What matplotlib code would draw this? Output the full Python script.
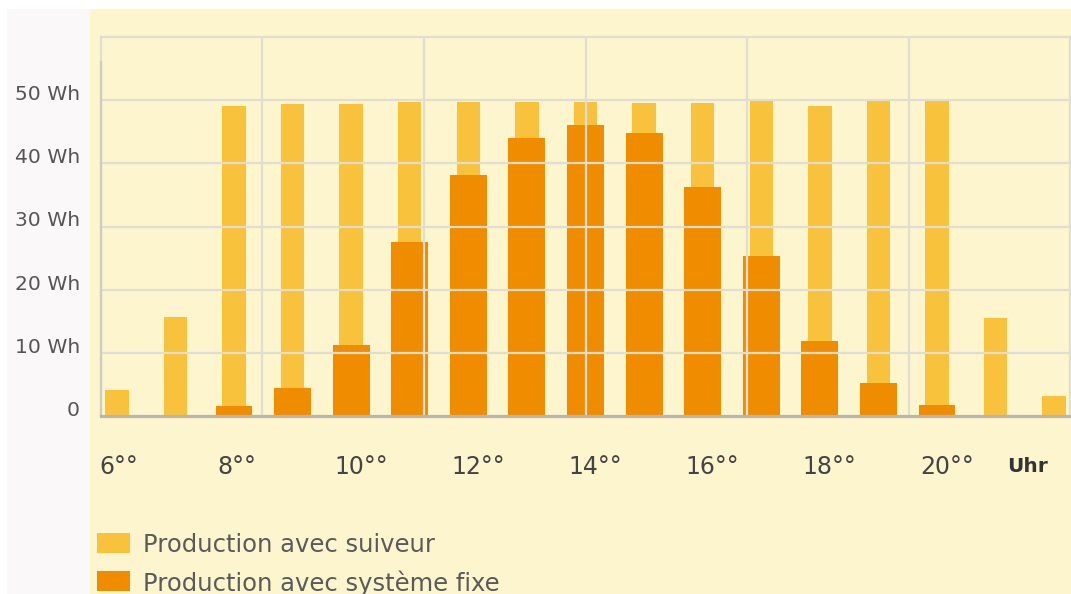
import numpy as np
import matplotlib
matplotlib.use("Agg")
import matplotlib.pyplot as plt
from matplotlib.patches import Rectangle
import matplotlib.transforms as mtransforms

# Hourly energy production (Wh)
hours = [6, 7, 8, 9, 10, 11, 12, 13, 14, 15, 16, 17, 18, 19, 20, 21, 22]
suiveur = [4.1, 15.6, 49.1, 49.4, 49.4, 49.7, 49.7, 49.7, 49.7, 49.5, 49.5,
           49.9, 49.1, 49.8, 49.8, 15.5, 3.2]
fixe = [0, 0, 1.6, 4.5, 11.2, 27.5, 38.2, 44.0, 46.1, 44.8, 36.2,
        25.4, 11.8, 5.2, 1.7, 0, 0]

y_ticks = [0, 10, 20, 30, 40, 50]
y_labels = ["0", "10 Wh", "20 Wh", "30 Wh", "40 Wh", "50 Wh"]
x_ticks = [6, 8, 10, 12, 14, 16, 18, 20]
x_labels = ["6°°", "8°°", "10°°", "12°°", "14°°", "16°°", "18°°", "20°°"]
unit_label = "Uhr"
series_names = ["Production avec suiveur", "Production avec système fixe"]

C_YELLOW = "#f9c23c"
C_ORANGE = "#f08c00"
C_BG = "#fdf5cd"
C_PANEL = "#faf8f8"
C_GRID = "#e0ddd2"
C_TEXT = "#555555"

W, H = 1071, 594
fig = plt.figure(figsize=(W / 100, H / 100), dpi=100, facecolor="white")

# background panels
fig.add_artist(Rectangle((7 / W, 0), (90 - 7) / W, 1 - 9 / H,
                         transform=fig.transFigure, color=C_PANEL, lw=0, zorder=0))
fig.add_artist(Rectangle((90 / W, 0), 1 - 90 / W, 1 - 9 / H,
                         transform=fig.transFigure, color=C_BG, lw=0, zorder=0))

ax = fig.add_axes([101 / W, 1 - 416 / H, (1070 - 101) / W, (416 - 37) / H])
ax.set_facecolor("none")
xmin, xmax = 5.73, 22.27
ax.set_xlim(xmin, xmax)
ax.set_ylim(0, 60)

ax.bar(hours, suiveur, width=0.40, color=C_YELLOW, zorder=2, label=series_names[0])
ax.bar(hours, fixe, width=0.63, color=C_ORANGE, zorder=3, label=series_names[1])

# grid drawn over the bars
for v in y_ticks[1:]:
    ax.axhline(v, color=C_GRID, lw=1.6, zorder=4)
for xv in np.linspace(xmin, xmax, 7)[1:-1]:
    ax.axvline(xv, color=C_GRID, lw=1.6, zorder=4)

for side in ["top", "left", "right"]:
    ax.spines[side].set_color(C_GRID)
    ax.spines[side].set_linewidth(1.6)
ax.spines["bottom"].set_color("#b8b6ab")
ax.spines["bottom"].set_linewidth(2.3)
ax.spines["bottom"].set_zorder(5)
ax.plot([0, 0], [0, 56], transform=mtransforms.blended_transform_factory(ax.transAxes, ax.transData),
        color="#cfccc2", lw=1.6, zorder=5, clip_on=False)

ax.set_xticks([])
ax.set_yticks([])

# y labels
ylab_tr = mtransforms.blended_transform_factory(ax.transAxes, ax.transData)
for v, lab in zip(y_ticks, y_labels):
    ax.text(-21 / (1070 - 101), v, lab, transform=ylab_tr, ha="right", va="baseline",
            fontsize=14.6, color=C_TEXT)

# x labels
xlab_tr = mtransforms.blended_transform_factory(ax.transData, ax.transAxes)
xlab_y = (416 - 467) / (416 - 37)
for h, lab in zip(x_ticks, x_labels):
    ax.text(h - 0.29, xlab_y, lab, transform=xlab_tr, ha="left", va="center",
            fontsize=17, color="#444444")
ax.text(21.2, xlab_y, unit_label, transform=xlab_tr, ha="left", va="center",
        fontsize=14.5, fontweight="bold", color="#333333")

# legend
for i, (name, col) in enumerate(zip(series_names, [C_YELLOW, C_ORANGE])):
    top = 533 + i * 38
    fig.add_artist(Rectangle((97 / W, 1 - (top + 20) / H), 33 / W, 20 / H,
                             transform=fig.transFigure, color=col, lw=0, zorder=3))
    fig.text(143 / W, 1 - (top + 12) / H, name, ha="left", va="center",
             fontsize=17.5, color="#5a5a5a", zorder=3)

fig.savefig("out.png", dpi=100, facecolor="white")
